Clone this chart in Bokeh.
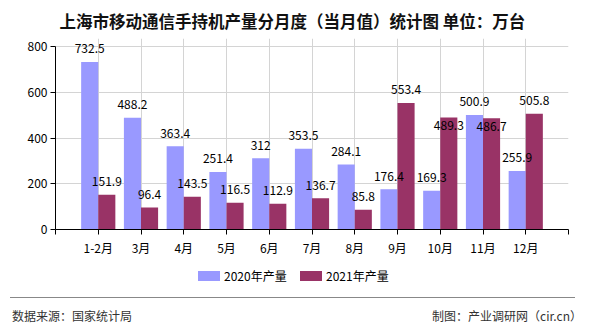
from bokeh.plotting import figure
from bokeh.models import ColumnDataSource, FixedTicker, Div
from bokeh.layouts import column
from bokeh.core.properties import value
from bokeh.embed import file_html
from bokeh.resources import INLINE

categories = ["1-2月", "3月", "4月", "5月", "6月", "7月", "8月", "9月", "10月", "11月", "12月"]
values_2020 = [732.5, 488.2, 363.4, 251.4, 312, 353.5, 284.1, 176.4, 169.3, 500.9, 255.9]
values_2021 = [151.9, 96.4, 143.5, 116.5, 112.9, 136.7, 85.8, 553.4, 489.3, 486.7, 505.8]
series_names = ["2020年产量", "2021年产量"]
y_ticks = [0, 200, 400, 600, 800]
title_text = "上海市移动通信手持机产量分月度（当月值）统计图 单位：万台"
source_text = "数据来源：国家统计局"
credit_text = "制图：产业调研网（cir.cn）"

FONT = "Noto Sans CJK SC"
C2020 = "#9999FF"
C2021 = "#993366"
GRID = "#d4d4d4"

xs = list(range(1, len(categories) + 1))
bw = 0.4
# label vertical offsets (px); two labels in the reference are pushed below their bar top
off20 = [-13] * len(xs)
off21 = [-13] * len(xs)
off21[8] = 8
off21[9] = 8

src20 = ColumnDataSource(dict(x=[v - bw / 2 for v in xs], top=values_2020,
                              lab=[f"{v:g}" for v in values_2020], off=off20))
src21 = ColumnDataSource(dict(x=[v + bw / 2 for v in xs], top=values_2021,
                              lab=[f"{v:g}" for v in values_2021], off=off21))

FH = 191          # frame height: 183 px for 0..800 plus headroom for labels
y_end = 800 * FH / 183

p = figure(frame_width=513, frame_height=FH, x_range=(0, 12), y_range=(0, y_end),
           output_backend="svg", toolbar_location=None,
           min_border_left=55, min_border_right=22, min_border_top=38, min_border_bottom=31)
p.outline_line_color = None
p.background_fill_color = "white"
p.border_fill_color = "white"

p.vbar(x="x", top="top", width=bw, source=src20, fill_color=C2020, line_color=None)
p.vbar(x="x", top="top", width=bw, source=src21, fill_color=C2021, line_color=None)

for src in (src20, src21):
    p.text(x="x", y="top", text="lab", source=src, text_align="center",
           text_baseline="middle", y_offset="off", text_font_size="12px",
           text_color="black", text_font=value(FONT))

p.xaxis.ticker = FixedTicker(ticks=list(range(0, 13)))
p.xaxis.major_label_overrides = {i: (categories[i - 1] if 1 <= i <= len(categories) else "")
                                 for i in range(0, 13)}
p.yaxis.ticker = FixedTicker(ticks=y_ticks)
p.yaxis.bounds = (0, 800)
for ax in (p.xaxis, p.yaxis):
    ax.axis_line_color = "black"
    ax.major_tick_line_color = "black"
    ax.major_tick_out = 5
    ax.major_tick_in = 0
    ax.minor_tick_line_color = None
    ax.major_label_text_font = FONT
    ax.major_label_text_font_size = "12px"
    ax.major_label_text_color = "black"
p.xaxis.major_label_standoff = 4
p.yaxis.major_label_standoff = 3
p.xgrid.ticker = FixedTicker(ticks=list(range(1, 13)))
p.ygrid.ticker = FixedTicker(ticks=y_ticks)
p.grid.grid_line_color = GRID

p.title.text = title_text
p.title.text_font = FONT
p.title.text_font_size = "16.5px"
p.title.text_font_style = "bold"
p.title.text_color = "#111111"
p.title.align = "left"
p.title.offset = 4
p.title.standoff = 12

# lower strip: legend, separator rule and source / credit texts
html = f"""
<div style="position:relative;width:590px;height:70px;font-family:'{FONT}';font-size:12px;">
  <div style="position:absolute;left:198px;top:11px;width:22px;height:10px;background:{C2020};"></div>
  <div style="position:absolute;left:224px;top:7px;line-height:18px;color:#000;white-space:nowrap;">{series_names[0]}</div>
  <div style="position:absolute;left:300px;top:11px;width:22px;height:10px;background:{C2021};"></div>
  <div style="position:absolute;left:326px;top:7px;line-height:18px;color:#000;white-space:nowrap;">{series_names[1]}</div>
  <div style="position:absolute;left:10px;top:37px;width:565px;height:0;border-top:1.5px solid #888888;"></div>
  <div style="position:absolute;left:12px;top:47px;line-height:18px;color:#333333;white-space:nowrap;">{source_text}</div>
  <div style="position:absolute;right:8px;top:47px;line-height:18px;color:#333333;white-space:nowrap;">{credit_text}</div>
</div>
"""
foot = Div(text=html, width=590, height=70, margin=0)

open("out.html", "w").write(file_html(column(p, foot, spacing=0), INLINE))
